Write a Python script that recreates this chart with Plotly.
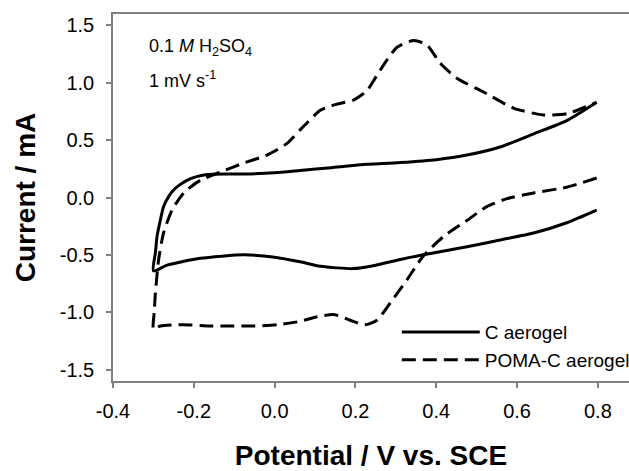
import plotly.graph_objects as go

# C aerogel: cathodic branch (0.8 -> -0.3) then anodic branch (-0.3 -> 0.8)
c_x = [0.797, 0.723, 0.641, 0.558, 0.476, 0.368, 0.311, 0.25, 0.195, 0.113, 0.063, 0.0,
       -0.077, -0.184, -0.266, -0.300,
       -0.295, -0.291, -0.283, -0.275, -0.262, -0.250, -0.235, -0.217, -0.195, -0.167,
       -0.12, -0.077, 0.0, 0.063, 0.14, 0.212, 0.311, 0.40, 0.476, 0.558, 0.641, 0.723, 0.797]
c_y = [-0.11, -0.22, -0.31, -0.37, -0.43, -0.50, -0.54, -0.59, -0.62, -0.60, -0.56, -0.52,
       -0.50, -0.53, -0.59, -0.64,
       -0.48, -0.34, -0.20, -0.08, 0.01, 0.065, 0.11, 0.15, 0.18, 0.20,
       0.205, 0.205, 0.215, 0.235, 0.26, 0.285, 0.305, 0.33, 0.37, 0.44, 0.555, 0.67, 0.83]

# POMA-C aerogel: cathodic branch then anodic branch
poma_x = [0.797, 0.723, 0.641, 0.575, 0.525, 0.476, 0.418, 0.368, 0.327, 0.286, 0.253, 0.224,
          0.187, 0.146, 0.105, 0.063, 0.006, -0.05, -0.102, -0.16, -0.225, -0.283, -0.300,
          -0.298, -0.295, -0.287, -0.275, -0.254, -0.225, -0.184, -0.135, -0.077, -0.019, 0.030,
          0.063, 0.080, 0.113, 0.150, 0.195, 0.228, 0.261, 0.303, 0.344, 0.377, 0.410, 0.451,
          0.517, 0.591, 0.665, 0.723, 0.797]
poma_y = [0.17, 0.09, 0.04, -0.01, -0.08, -0.20, -0.34, -0.51, -0.72, -0.92, -1.07, -1.11,
          -1.07, -1.02, -1.04, -1.08, -1.11, -1.12, -1.12, -1.12, -1.11, -1.12, -1.15,
          -1.0, -0.83, -0.54, -0.31, -0.11, 0.04, 0.15, 0.22, 0.30, 0.37, 0.47,
          0.59, 0.65, 0.76, 0.81, 0.85, 0.93, 1.11, 1.31, 1.37, 1.33, 1.17, 1.04,
          0.92, 0.78, 0.72, 0.73, 0.83]

x_ticks = [-0.4, -0.2, 0.0, 0.2, 0.4, 0.6, 0.8]
y_ticks = [-1.5, -1.0, -0.5, 0.0, 0.5, 1.0, 1.5]

FONT = "Liberation Sans, Arial, sans-serif"

fig = go.Figure()
fig.add_trace(go.Scatter(x=c_x, y=c_y, mode="lines", name="C aerogel",
                         line=dict(color="black", width=3, shape="spline", smoothing=0.6)))
fig.add_trace(go.Scatter(x=poma_x, y=poma_y, mode="lines", name="POMA-C aerogel",
                         line=dict(color="black", width=3, dash="14px,7px", shape="spline", smoothing=0.6)))

axis_common = dict(showgrid=False, zeroline=False, showline=True, linecolor="#808080", linewidth=1.5,
                   ticks="outside", ticklen=5, tickcolor="#808080", tickwidth=1.5,
                   tickfont=dict(family=FONT, size=20, color="black"))

fig.update_xaxes(range=[-0.4, 0.877], tickvals=x_ticks, ticktext=[f"{v:.1f}" for v in x_ticks],
                 mirror=True, ticklabelstandoff=6,
                 title=dict(text="<b>Potential / V vs. SCE</b>", font=dict(family=FONT, size=28, color="black"),
                            standoff=29), **axis_common)
fig.update_yaxes(range=[-1.6, 1.6], tickvals=y_ticks, ticktext=[f"{v:.1f}" for v in y_ticks],
                 mirror=False, ticklabelstandoff=8,
                 title=dict(text="<b>Current / mA</b>", font=dict(family=FONT, size=28, color="black"),
                            standoff=16), **axis_common)

fig.add_annotation(xref="paper", yref="paper", x=0.066, y=0.909, xanchor="left", yanchor="middle",
                   text="0.1 <i>M</i> H<sub>2</sub>SO<sub>4</sub>", showarrow=False,
                   font=dict(family=FONT, size=18, color="black"))
fig.add_annotation(xref="paper", yref="paper", x=0.066, y=0.821, xanchor="left", yanchor="middle",
                   text="1 mV s<sup>-1</sup>", showarrow=False,
                   font=dict(family=FONT, size=18, color="black"))

fig.update_layout(
    width=629, height=471,
    margin=dict(l=113, r=0, t=13.5, b=89.5, autoexpand=False),
    paper_bgcolor="white", plot_bgcolor="white",
    showlegend=True,
    legend=dict(x=0.550, y=0.185, xanchor="left", yanchor="top", bgcolor="rgba(0,0,0,0)",
                font=dict(family=FONT, size=19, color="black"), itemwidth=78, tracegroupgap=0),
)

# remove the browser's default 8px body margin so the figure fills the window exactly
fig.write_html("out.html", config={"displayModeBar": False},
               post_script="document.body.style.margin='0';document.body.style.overflow='hidden';")
